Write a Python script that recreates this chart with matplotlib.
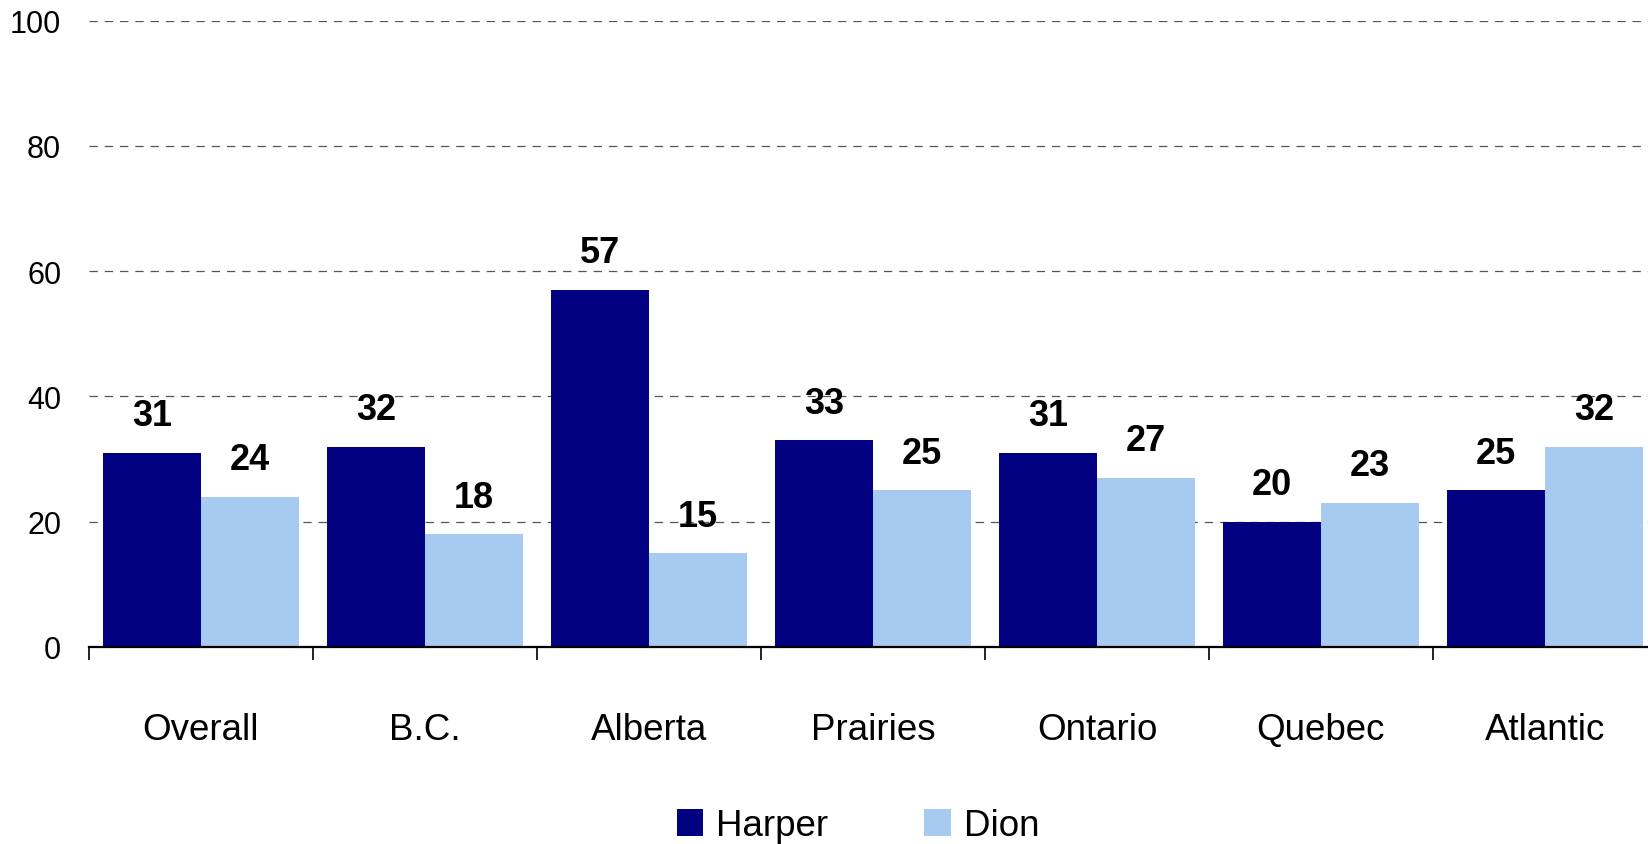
import matplotlib
matplotlib.use('Agg')
import matplotlib.pyplot as plt
import numpy as np
from matplotlib.patches import Patch

plt.rcParams['font.family'] = ['Liberation Sans', 'DejaVu Sans']
plt.rcParams['lines.scale_dashes'] = False

regions = ['Overall', 'B.C.', 'Alberta', 'Prairies', 'Ontario', 'Quebec', 'Atlantic']
harper = [31, 32, 57, 33, 31, 20, 25]
dion = [24, 18, 15, 25, 27, 23, 32]
series = [('Harper', harper, '#000080'), ('Dion', dion, '#A6CAF0')]

fig = plt.figure(figsize=(16.48, 8.45), dpi=100)
ax = fig.add_axes([89 / 1648, 1 - 648 / 845, 1568 / 1648, (648 - 21.5) / 845])

x = np.arange(len(regions))
w = 0.4375
for k, (name, vals, color) in enumerate(series):
    xs = x + (k - 0.5) * w
    ax.bar(xs, vals, width=w, color=color, zorder=2)
    for xi, v in zip(xs, vals):
        ax.annotate(str(v), (xi, v), xytext=(0, 19.8), textcoords='offset points',
                    ha='center', va='baseline', fontsize=26, fontweight='bold')

ax.set_xlim(-0.5, len(regions) - 0.5)
ax.set_ylim(0, 100)
ax.set_yticks([0, 20, 40, 60, 80, 100])
for y in [20, 40, 60, 80, 100]:
    ax.axhline(y, color='#555555', lw=0.9, dashes=(6.0, 5.0), zorder=1)

ax.set_xticks(x)
ax.set_xticklabels(regions)
ax.set_xticks(np.arange(-0.5, len(regions), 1), minor=True)
ax.tick_params(axis='x', which='major', length=0, pad=47, labelsize=26.5)
ax.tick_params(axis='x', which='minor', length=9.5, width=1.2, color='black')
ax.tick_params(axis='y', length=0, pad=20, labelsize=22)

for s in ['left', 'right', 'top']:
    ax.spines[s].set_visible(False)
ax.spines['bottom'].set_linewidth(1.6)
ax.spines['bottom'].set_zorder(3)

handles = [Patch(facecolor=c, label=n) for n, _, c in series]
fig.legend(handles=handles, loc='center', bbox_to_anchor=(858 / 1648, 1 - 827 / 845),
           ncol=2, frameon=False, fontsize=26.5, handlelength=0.73, handleheight=0.73,
           handletextpad=0.35, columnspacing=2.6)

fig.savefig('out.png', dpi=100)
